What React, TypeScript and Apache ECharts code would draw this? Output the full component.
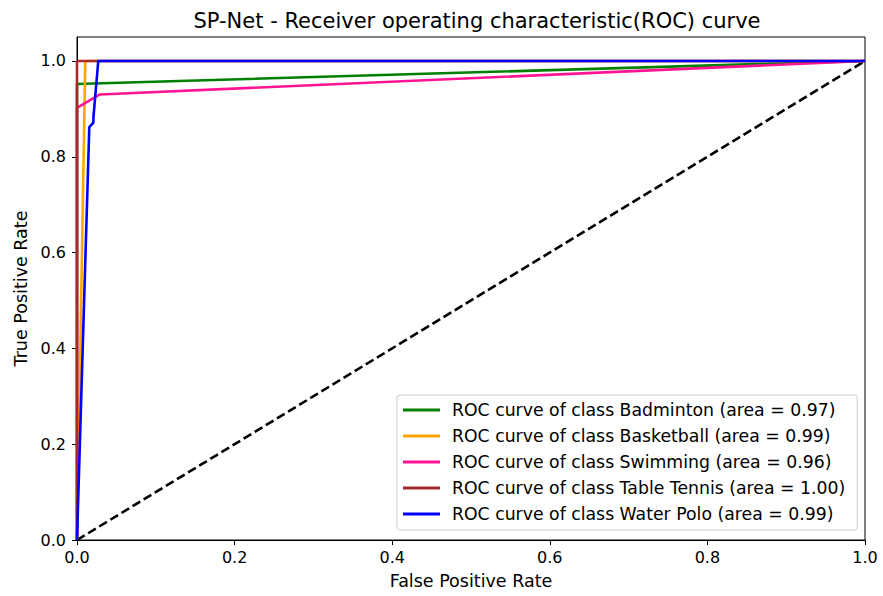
import React, { useEffect, useRef } from "react";
import * as echarts from "echarts";

const titleText = "SP-Net - Receiver operating characteristic(ROC) curve";
const xTicks = [0, 0.2, 0.4, 0.6, 0.8, 1.0];
const yTicks = [0, 0.2, 0.4, 0.6, 0.8, 1.0];

const classNames = ["Badminton", "Basketball", "Swimming", "Table Tennis", "Water Polo"];
const areas = ["0.97", "0.99", "0.96", "1.00", "0.99"];
const colors = ["#008000", "#FFA500", "#FF1493", "#A52A2A", "#0000FF"];

const badmintonFpr = [0, 0, 1];
const badmintonTpr = [0, 0.952, 1];
const basketballFpr = [0, 0.0105, 1];
const basketballTpr = [0, 1, 1];
const swimmingFpr = [0, 0, 0.029, 1];
const swimmingTpr = [0, 0.902, 0.93, 1];
const tableTennisFpr = [0, 0, 1];
const tableTennisTpr = [0, 1, 1];
const waterPoloFpr = [0, 0.0156, 0.0207, 0.021, 0.027, 1];
const waterPoloTpr = [0, 0.862, 0.871, 0.885, 1, 1];

const fprs = [badmintonFpr, basketballFpr, swimmingFpr, tableTennisFpr, waterPoloFpr];
const tprs = [badmintonTpr, basketballTpr, swimmingTpr, tableTennisTpr, waterPoloTpr];

const FONT = "DejaVu Sans";

export default function App() {
  const ref = useRef<HTMLDivElement>(null);
  useEffect(() => {
    if (!ref.current) return;
    const chart = echarts.init(ref.current, null, { renderer: "svg" });
    const series: any[] = classNames.map((c, i) => ({
      name: `ROC curve of class ${c} (area = ${areas[i]})`,
      type: "line",
      data: fprs[i].map((x, j) => [x, tprs[i][j]]),
      symbol: "none",
      lineStyle: { color: colors[i], width: 2.6 },
      itemStyle: { color: colors[i] },
    }));
    series.push({
      name: "chance",
      type: "line",
      data: [
        [0, 0],
        [1, 1],
      ],
      symbol: "none",
      lineStyle: { color: "#000", width: 2.6, type: [9, 4] },
      z: 1,
    });
    chart.setOption({
      animation: false,
      backgroundColor: "#fff",
      title: {
        text: titleText,
        left: 472,
        textAlign: "center",
        top: 5,
        textStyle: { fontFamily: FONT, fontSize: 21, fontWeight: "normal", color: "#000" },
      },
      grid: {
        left: 77,
        right: 18,
        top: 37,
        bottom: 56,
        show: true,
        borderColor: "#000",
        borderWidth: 1,
        outerBoundsMode: "none",
        containLabel: false,
      },
      legend: {
        data: series.slice(0, 5).map((s) => s.name),
        orient: "vertical",
        left: 397,
        top: 395,
        padding: [5, 12, 6, 6],
        itemGap: 6,
        itemWidth: 37,
        itemHeight: 3,
        icon: "rect",
        borderColor: "#ccc",
        borderWidth: 1,
        borderRadius: 3,
        backgroundColor: "rgba(255,255,255,0.8)",
        textStyle: {
          fontFamily: FONT,
          fontSize: 17.3,
          color: "#000",
          lineHeight: 20,
          padding: [0, 0, 0, 7],
        },
      },
      xAxis: {
        type: "value",
        min: 0,
        max: 1,
        interval: 0.2,
        name: "False Positive Rate",
        nameLocation: "middle",
        nameGap: 32,
        nameTextStyle: { fontFamily: FONT, fontSize: 17.5, color: "#000" },
        axisLine: { lineStyle: { color: "#000", width: 1 } },
        axisTick: { show: true, length: 5, lineStyle: { color: "#000" }, customValues: xTicks },
        axisLabel: {
          fontFamily: FONT,
          fontSize: 16,
          color: "#000",
          margin: 9,
          customValues: xTicks,
          formatter: (v: number) => v.toFixed(1),
        },
        splitLine: { show: false },
      },
      yAxis: {
        type: "value",
        min: 0,
        max: 1.05,
        interval: 0.2,
        name: "True Positive Rate",
        nameLocation: "middle",
        nameGap: 47,
        nameTextStyle: { fontFamily: FONT, fontSize: 17.5, color: "#000" },
        axisLine: { show: true, lineStyle: { color: "#000", width: 1 } },
        axisTick: { show: true, length: 5, lineStyle: { color: "#000" }, customValues: yTicks },
        axisLabel: {
          fontFamily: FONT,
          fontSize: 16,
          color: "#000",
          margin: 11,
          customValues: yTicks,
          formatter: (v: number) => v.toFixed(1),
        },
        splitLine: { show: false },
      },
      series,
    });
    return () => chart.dispose();
  }, []);
  return <div ref={ref} style={{ width: 883, height: 596, position: "absolute", left: 0, top: 0 }} />;
}
